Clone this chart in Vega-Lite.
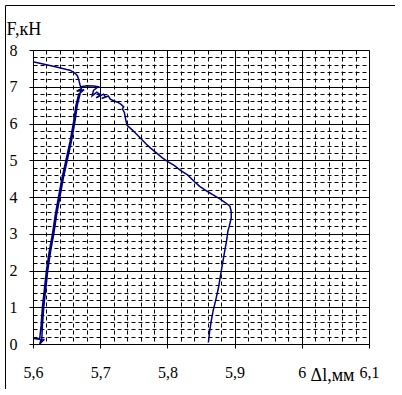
{
  "$schema": "https://vega.github.io/schema/vega-lite/v6.json",
  "width": 390,
  "height": 384,
  "autosize": {"type": "none"},
  "padding": {"left": 5, "top": 5, "right": 0, "bottom": 0},
  "background": "white",
  "config": {
    "view": {"stroke": "black", "strokeWidth": 1},
    "axis": {"labelFont": "Liberation Serif", "titleFont": "Liberation Serif", "labelColor": "black", "titleColor": "black"}
  },
  "data": {
    "values": [
      {"i": 1, "dl": 5.600, "F": 7.68},
      {"i": 2, "dl": 5.615, "F": 7.62},
      {"i": 3, "dl": 5.630, "F": 7.56},
      {"i": 4, "dl": 5.641, "F": 7.51},
      {"i": 5, "dl": 5.650, "F": 7.47},
      {"i": 6, "dl": 5.655, "F": 7.45},
      {"i": 7, "dl": 5.660, "F": 7.40},
      {"i": 8, "dl": 5.663, "F": 7.36},
      {"i": 9, "dl": 5.666, "F": 7.30},
      {"i": 10, "dl": 5.668, "F": 7.20},
      {"i": 11, "dl": 5.670, "F": 7.05},
      {"i": 12, "dl": 5.672, "F": 6.95},
      {"i": 13, "dl": 5.665, "F": 6.88},
      {"i": 14, "dl": 5.676, "F": 6.92},
      {"i": 15, "dl": 5.668, "F": 6.80},
      {"i": 16, "dl": 5.664, "F": 6.50},
      {"i": 17, "dl": 5.660, "F": 6.00},
      {"i": 18, "dl": 5.655, "F": 5.50},
      {"i": 19, "dl": 5.649, "F": 5.00},
      {"i": 20, "dl": 5.643, "F": 4.50},
      {"i": 21, "dl": 5.638, "F": 4.00},
      {"i": 22, "dl": 5.633, "F": 3.50},
      {"i": 23, "dl": 5.629, "F": 3.00},
      {"i": 24, "dl": 5.624, "F": 2.50},
      {"i": 25, "dl": 5.620, "F": 2.00},
      {"i": 26, "dl": 5.617, "F": 1.50},
      {"i": 27, "dl": 5.614, "F": 1.00},
      {"i": 28, "dl": 5.612, "F": 0.50},
      {"i": 29, "dl": 5.610, "F": 0.15},
      {"i": 30, "dl": 5.601, "F": 0.15},
      {"i": 31, "dl": 5.612, "F": 0.12},
      {"i": 32, "dl": 5.610, "F": 0.00},
      {"i": 33, "dl": 5.617, "F": 0.13},
      {"i": 34, "dl": 5.613, "F": 0.10},
      {"i": 35, "dl": 5.614, "F": 0.50},
      {"i": 36, "dl": 5.616, "F": 1.00},
      {"i": 37, "dl": 5.619, "F": 1.50},
      {"i": 38, "dl": 5.622, "F": 2.00},
      {"i": 39, "dl": 5.626, "F": 2.50},
      {"i": 40, "dl": 5.631, "F": 3.00},
      {"i": 41, "dl": 5.635, "F": 3.50},
      {"i": 42, "dl": 5.640, "F": 4.00},
      {"i": 43, "dl": 5.645, "F": 4.50},
      {"i": 44, "dl": 5.651, "F": 5.00},
      {"i": 45, "dl": 5.657, "F": 5.50},
      {"i": 46, "dl": 5.662, "F": 6.00},
      {"i": 47, "dl": 5.666, "F": 6.50},
      {"i": 48, "dl": 5.670, "F": 6.80},
      {"i": 49, "dl": 5.672, "F": 7.00},
      {"i": 50, "dl": 5.680, "F": 7.03},
      {"i": 51, "dl": 5.690, "F": 7.02},
      {"i": 52, "dl": 5.697, "F": 7.00},
      {"i": 53, "dl": 5.690, "F": 6.90},
      {"i": 54, "dl": 5.688, "F": 6.75},
      {"i": 55, "dl": 5.695, "F": 6.85},
      {"i": 56, "dl": 5.700, "F": 6.78},
      {"i": 57, "dl": 5.694, "F": 6.70},
      {"i": 58, "dl": 5.705, "F": 6.80},
      {"i": 59, "dl": 5.708, "F": 6.72},
      {"i": 60, "dl": 5.702, "F": 6.68},
      {"i": 61, "dl": 5.712, "F": 6.75},
      {"i": 62, "dl": 5.715, "F": 6.66},
      {"i": 63, "dl": 5.720, "F": 6.62},
      {"i": 64, "dl": 5.726, "F": 6.58},
      {"i": 65, "dl": 5.731, "F": 6.52},
      {"i": 66, "dl": 5.735, "F": 6.45},
      {"i": 67, "dl": 5.733, "F": 6.40},
      {"i": 68, "dl": 5.736, "F": 6.30},
      {"i": 69, "dl": 5.738, "F": 6.10},
      {"i": 70, "dl": 5.740, "F": 5.95},
      {"i": 71, "dl": 5.748, "F": 5.82},
      {"i": 72, "dl": 5.752, "F": 5.75},
      {"i": 73, "dl": 5.760, "F": 5.60},
      {"i": 74, "dl": 5.768, "F": 5.45},
      {"i": 75, "dl": 5.775, "F": 5.33},
      {"i": 76, "dl": 5.785, "F": 5.18},
      {"i": 77, "dl": 5.792, "F": 5.07},
      {"i": 78, "dl": 5.800, "F": 4.97},
      {"i": 79, "dl": 5.810, "F": 4.86},
      {"i": 80, "dl": 5.820, "F": 4.72},
      {"i": 81, "dl": 5.830, "F": 4.60},
      {"i": 82, "dl": 5.840, "F": 4.42},
      {"i": 83, "dl": 5.848, "F": 4.29},
      {"i": 84, "dl": 5.858, "F": 4.17},
      {"i": 85, "dl": 5.868, "F": 4.06},
      {"i": 86, "dl": 5.878, "F": 3.95},
      {"i": 87, "dl": 5.886, "F": 3.85},
      {"i": 88, "dl": 5.893, "F": 3.75},
      {"i": 89, "dl": 5.895, "F": 3.60},
      {"i": 90, "dl": 5.895, "F": 3.43},
      {"i": 91, "dl": 5.892, "F": 3.20},
      {"i": 92, "dl": 5.890, "F": 3.07},
      {"i": 93, "dl": 5.888, "F": 2.80},
      {"i": 94, "dl": 5.885, "F": 2.50},
      {"i": 95, "dl": 5.881, "F": 2.08},
      {"i": 96, "dl": 5.878, "F": 1.75},
      {"i": 97, "dl": 5.876, "F": 1.53},
      {"i": 98, "dl": 5.872, "F": 1.20},
      {"i": 99, "dl": 5.868, "F": 0.90},
      {"i": 100, "dl": 5.865, "F": 0.60},
      {"i": 101, "dl": 5.863, "F": 0.36},
      {"i": 102, "dl": 5.861, "F": 0.04}
    ]
  },
  "layer": [
    {
      "mark": {"type": "line", "opacity": 0},
      "encoding": {
        "x": {
          "field": "dl", "type": "quantitative",
          "scale": {"domain": [5.6, 6.1], "range": [28, 364], "nice": false, "zero": false},
          "axis": {
            "orient": "bottom",
            "values": [5.62, 5.64, 5.66, 5.68, 5.72, 5.74, 5.76, 5.78, 5.82, 5.84, 5.86, 5.88, 5.92, 5.94, 5.96, 5.98, 6.02, 6.04, 6.06, 6.08],
            "grid": true, "gridColor": "black", "gridOpacity": 1, "gridDash": [4, 3], "gridWidth": 1,
            "labels": false, "ticks": false, "domain": false, "title": null, "offset": -45
          }
        },
        "y": {
          "field": "F", "type": "quantitative",
          "scale": {"domain": [0, 8], "range": [339, 45], "nice": false, "zero": false},
          "axis": {
            "orient": "left",
            "values": [0.2, 0.4, 0.6, 0.8, 1.2, 1.4, 1.6, 1.8, 2.2, 2.4, 2.6, 2.8, 3.2, 3.4, 3.6, 3.8, 4.2, 4.4, 4.6, 4.8, 5.2, 5.4, 5.6, 5.8, 6.2, 6.4, 6.6, 6.8, 7.2, 7.4, 7.6, 7.8],
            "grid": true, "gridColor": "black", "gridOpacity": 1, "gridDash": [4, 3], "gridWidth": 1,
            "labels": false, "ticks": false, "domain": false, "title": null, "offset": -28
          }
        },
        "order": {"field": "i", "type": "quantitative"}
      }
    },
    {
      "mark": {"type": "line", "color": "#000080", "strokeWidth": 1.5},
      "encoding": {
        "x": {
          "field": "dl", "type": "quantitative",
          "scale": {"domain": [5.6, 6.1], "range": [28, 364], "nice": false, "zero": false},
          "axis": {
            "orient": "bottom",
            "values": [5.6, 5.7, 5.8, 5.9, 6.0, 6.1],
            "labelExpr": "replace(format(datum.value, '.2~f'), '.', ',')",
            "grid": true, "gridColor": "black", "gridOpacity": 1, "gridWidth": 1,
            "domain": true, "domainColor": "black", "domainWidth": 1,
            "ticks": true, "tickColor": "black", "tickSize": 4, "tickWidth": 1,
            "labelFontSize": 16, "labelPadding": 16, "labelFlush": false, "labelOverlap": false,
            "title": "Δl,мм", "titleFontSize": 18, "titleFontWeight": "normal",
            "titleAnchor": null, "titleAlign": "center", "titleBaseline": "alphabetic",
            "titleX": 327, "titleY": 36,
            "offset": -45
          }
        },
        "y": {
          "field": "F", "type": "quantitative",
          "scale": {"domain": [0, 8], "range": [339, 45], "nice": false, "zero": false},
          "axis": {
            "orient": "left",
            "values": [0, 1, 2, 3, 4, 5, 6, 7, 8],
            "grid": true, "gridColor": "black", "gridOpacity": 1, "gridWidth": 1,
            "domain": true, "domainColor": "black", "domainWidth": 1,
            "ticks": true, "tickColor": "black", "tickSize": 4, "tickWidth": 1,
            "labelFontSize": 16, "labelPadding": 12, "labelFlush": false, "labelOverlap": false,
            "title": "F,кН", "titleFontSize": 18, "titleFontWeight": "normal",
            "titleAnchor": null, "titleAngle": 0, "titleAlign": "left", "titleBaseline": "alphabetic",
            "titleX": -27, "titleY": 29,
            "offset": -28
          }
        },
        "order": {"field": "i", "type": "quantitative"}
      }
    }
  ],
  "resolve": {"axis": {"x": "independent", "y": "independent"}}
}
